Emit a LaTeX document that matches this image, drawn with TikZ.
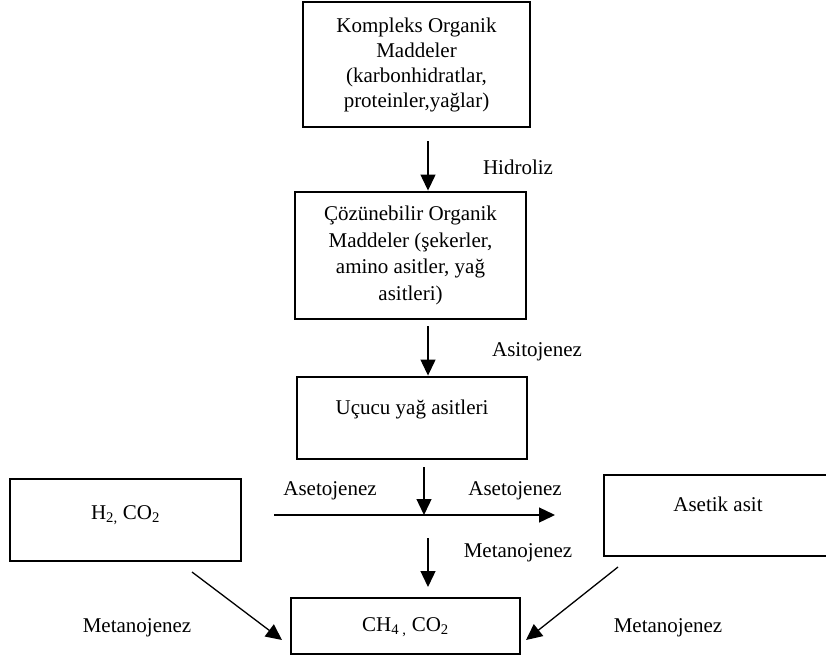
\documentclass[tikz,border=0pt]{standalone}
\usepackage{fontspec}
\setmainfont{Liberation Serif}
\usetikzlibrary{arrows.meta}
\begin{document}
\begin{tikzpicture}[x=1pt,y=-1pt,
  box/.style={draw, line width=2.9pt, inner sep=0pt, align=center},
  txt/.style={font=\fontsize{21}{26}\selectfont},
  lbl/.style={inner sep=1pt, font=\fontsize{21}{26}\selectfont},
  arr/.style={line width=1.3pt, -{Triangle[length=16pt,width=15pt]}}]
\useasboundingbox (0,0) rectangle (826,661);
\clip (0,0) rectangle (826,661);
% boxes
\node[box, minimum width=227pt, minimum height=125pt, font=\fontsize{21}{25}\selectfont] (b1) at (416.5,64.5)
  {Kompleks Organik\\Maddeler\\(karbonhidratlar,\\proteinler,yağlar)};
\node[box, minimum width=231pt, minimum height=127pt, font=\fontsize{21}{26.5}\selectfont] (b2) at (410.5,255.5)
  {Çözünebilir Organik\\Maddeler (şekerler,\\amino asitler, yağ\\asitleri)};
\node[box, txt, minimum width=230pt, minimum height=82pt, text height=15pt, text depth=23pt] (b3) at (412,418)
  {Uçucu yağ asitleri};
\node[box, txt, minimum width=231pt, minimum height=82pt, text height=15pt, text depth=17pt] (h2) at (125.5,520)
  {H\textsubscript{2,} CO\textsubscript{2}};
\node[box, txt, minimum width=228pt, minimum height=81pt, text height=15pt, text depth=24pt] (ac) at (718,515.5)
  {Asetik asit};
\node[box, txt, minimum width=229pt, minimum height=56pt, text height=15pt, text depth=5pt] (ch) at (405.5,626)
  {CH\textsubscript{4 ,} CO\textsubscript{2}};
% labels
\node[lbl] (lh) at (518,167) {Hidroliz};
\node[lbl] (la) at (537,352) {Asitojenez};
\node[lbl] (lal) at (330,491) {Asetojenez};
\node[lbl] (lar) at (515,491) {Asetojenez};
\node[lbl, fill=white] (lmm) at (518,553) {Metanojenez};
\node[lbl] (lml) at (137,628) {Metanojenez};
\node[lbl] (lmr) at (668,628) {Metanojenez};
% connectors
\coordinate (s1) at (428,141);
\coordinate (s2) at (428,326);
\coordinate (s3) at (424,467);
\coordinate (hl) at (274,515);
\coordinate (hr) at (555,515);
\coordinate (s4) at (428,538);
\coordinate (e4) at (428,587);
\coordinate (dl1) at (192,572);
\coordinate (dl2) at (282,640);
\coordinate (dr1) at (618,567);
\coordinate (dr2) at (526,640);
\draw[arr] (s1) -- (s1 |- b2.north);
\draw[arr] (s2) -- (s2 |- b3.north);
\draw[arr] (s3) -- (s3 |- hl);
\draw[arr] (hl) -- (hr);
\draw[arr] (s4) -- (e4);
\draw[arr] (dl1) -- (dl2);
\draw[arr] (dr1) -- (dr2);
\end{tikzpicture}
\end{document}
